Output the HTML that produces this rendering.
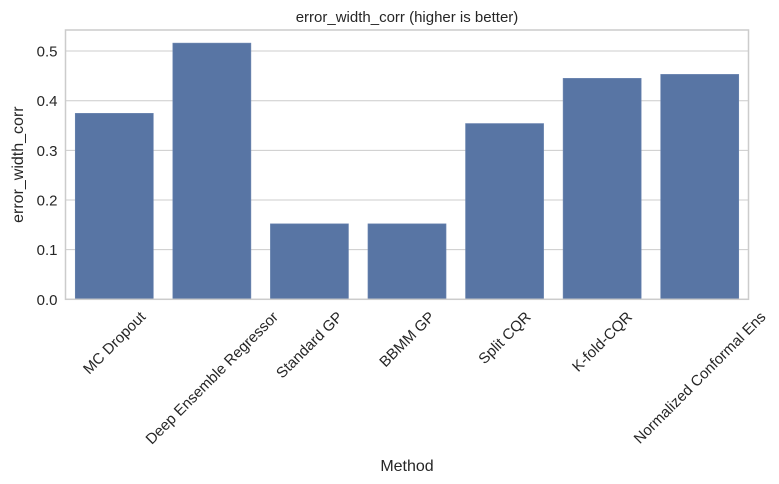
<!DOCTYPE html>
<html><head><meta charset="utf-8"><style>
html,body{margin:0;padding:0;background:#fff;}
svg{display:block;font-family:"Liberation Sans",Arial,sans-serif;}
</style></head><body>
<svg id="chart" width="779" height="484"></svg>
<script>
const categories=["MC Dropout","Deep Ensemble Regressor","Standard GP","BBMM GP","Split CQR","K-fold-CQR","Normalized Conformal Ens"];
const values=[0.3745,0.516,0.152,0.152,0.354,0.445,0.453];
const yTicks=[0.0,0.1,0.2,0.3,0.4,0.5];
const yTickLabels=["0.0","0.1","0.2","0.3","0.4","0.5"];

const NS="http://www.w3.org/2000/svg";
const svg=document.getElementById('chart');
const L=65.5,R=748.5,T=30,B=299.3;
const yMin=0,yMax=0.5424;
function y(v){return B-(v-yMin)/(yMax-yMin)*(B-T);}
const band=(R-L)/categories.length;
function xc(i){return L+band*(i+0.5);}
function mk(tag,attrs,parent){const e=document.createElementNS(NS,tag);for(const k in attrs)e.setAttribute(k,attrs[k]);(parent||svg).appendChild(e);return e;}

const grid=mk('g',{});


yTicks.forEach((t,i)=>{
  const ln=mk('line',{x1:L,x2:R,y1:y(t),y2:y(t),stroke:'#cccccc','stroke-width':1},grid);
  
  
  const tx=mk('text',{x:L-8,y:y(t)+5.5,'text-anchor':'end','font-size':15,fill:'#262626'});
  tx.textContent=yTickLabels[i];
  
  
});

values.forEach((v,i)=>{
  const w=band*0.8;
  const r=mk('rect',{x:xc(i)-w/2,y:y(v),width:w,height:B-y(v),fill:'#5875a4',stroke:'#6b85b0','stroke-width':0.6});
  
  
});

const frame=mk('rect',{x:L,y:T,width:R-L,height:B-T,fill:'none',stroke:'#cccccc','stroke-width':1.5});



categories.forEach((c,i)=>{
  const t=mk('text',{'text-anchor':'middle','font-size':15,fill:'#262626'});
  t.textContent=c;
  
  
  const w=t.getComputedTextLength();
  const h=(w+14)*0.7071;
  const cy=B+10+h/2;
  t.setAttribute('x',xc(i));t.setAttribute('y',cy+5);
  t.setAttribute('transform','rotate(-45 '+xc(i)+' '+cy+')');
});

const title=mk('text',{x:(L+R)/2,y:22,'text-anchor':'middle','font-size':15,fill:'#262626'});
title.textContent='error_width_corr (higher is better)';



const xt=mk('text',{x:(L+R)/2,y:471,'text-anchor':'middle','font-size':16,fill:'#262626'});
xt.textContent='Method';



const yt=mk('text',{x:0,y:0,'text-anchor':'middle','font-size':16,fill:'#262626',transform:'translate(23 '+((T+B)/2)+') rotate(-90)'});
yt.textContent='error_width_corr';


</script>
</body></html>
